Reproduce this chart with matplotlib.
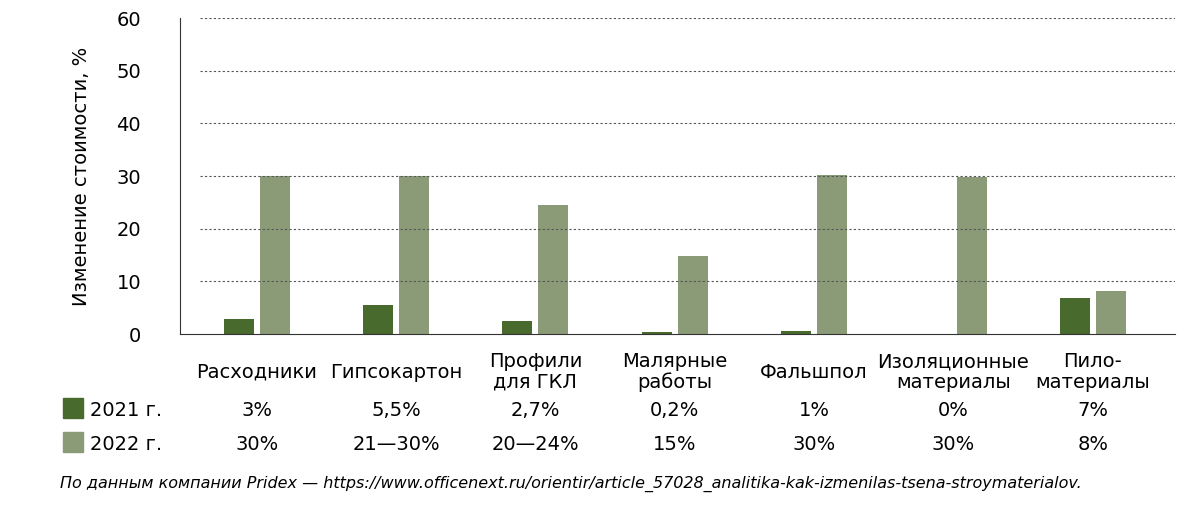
import matplotlib.pyplot as plt
import numpy as np

cats = ['Расходники', 'Гипсокартон', 'Профили\nдля ГКЛ', 'Малярные\nработы',
        'Фальшпол', 'Изоляционные\nматериалы', 'Пило-\nматериалы']
v2021 = [2.9, 5.5, 2.5, 0.4, 0.6, 0.0, 6.8]
v2022 = [30, 30, 24.5, 14.8, 30.2, 29.9, 8.1]
lab2021 = ['3%', '5,5%', '2,7%', '0,2%', '1%', '0%', '7%']
lab2022 = ['30%', '21—30%', '20—24%', '15%', '30%', '30%', '8%']

c21, c22 = '#486a2c', '#8b9b78'
W, H = 1200, 509
fig = plt.figure(figsize=(12, 5.09), dpi=100)
ax = fig.add_axes([180 / W, 1 - 334 / H, (1175 - 180) / W, (334 - 18) / H])
x = np.arange(len(cats))
ax.bar(x - 0.12, v2021, 0.215, color=c21)
ax.bar(x + 0.14, v2022, 0.215, color=c22)
ax.set_xlim(-0.54, 6.6)
ax.set_ylim(0, 60)
ax.set_yticks(range(0, 61, 10))
ax.tick_params(axis='y', length=0, labelsize=14, pad=28)
ax.set_xticks([])
for y in range(10, 61, 10):
    ax.plot([-0.4, 6.6], [y, y], ls=(0, (2, 2)), color='#555555', lw=0.8)
for s in ['top', 'right']:
    ax.spines[s].set_visible(False)
ax.spines['left'].set_color('#333333')
ax.spines['bottom'].set_color('#333333')
ax.set_ylabel('Изменение стоимости, %', fontsize=14, labelpad=18)

def fx(px):
    return px / W

def fy(py):
    return 1 - py / H

for i in range(len(cats)):
    cx = ax.transData.transform((x[i] + 0.01, 0))[0] / W
    fig.text(cx, fy(372), cats[i], ha='center', va='center', fontsize=14, linespacing=1.1)
    fig.text(cx, fy(410), lab2021[i], ha='center', va='center', fontsize=14)
    fig.text(cx, fy(444), lab2022[i], ha='center', va='center', fontsize=14)

fig.patches.append(plt.Rectangle((fx(63), fy(418)), 20 / W, 20 / H, color=c21, transform=fig.transFigure))
fig.patches.append(plt.Rectangle((fx(63), fy(452)), 20 / W, 20 / H, color=c22, transform=fig.transFigure))
fig.text(fx(90), fy(410), '2021 г.', va='center', fontsize=14)
fig.text(fx(90), fy(444), '2022 г.', va='center', fontsize=14)
fig.text(fx(60), fy(484), 'По данным компании Pridex — https://www.officenext.ru/orientir/article_57028_analitika-kak-izmenilas-tsena-stroymaterialov.',
         va='center', fontsize=11.5, style='italic')
fig.savefig('out.png', dpi=100)
